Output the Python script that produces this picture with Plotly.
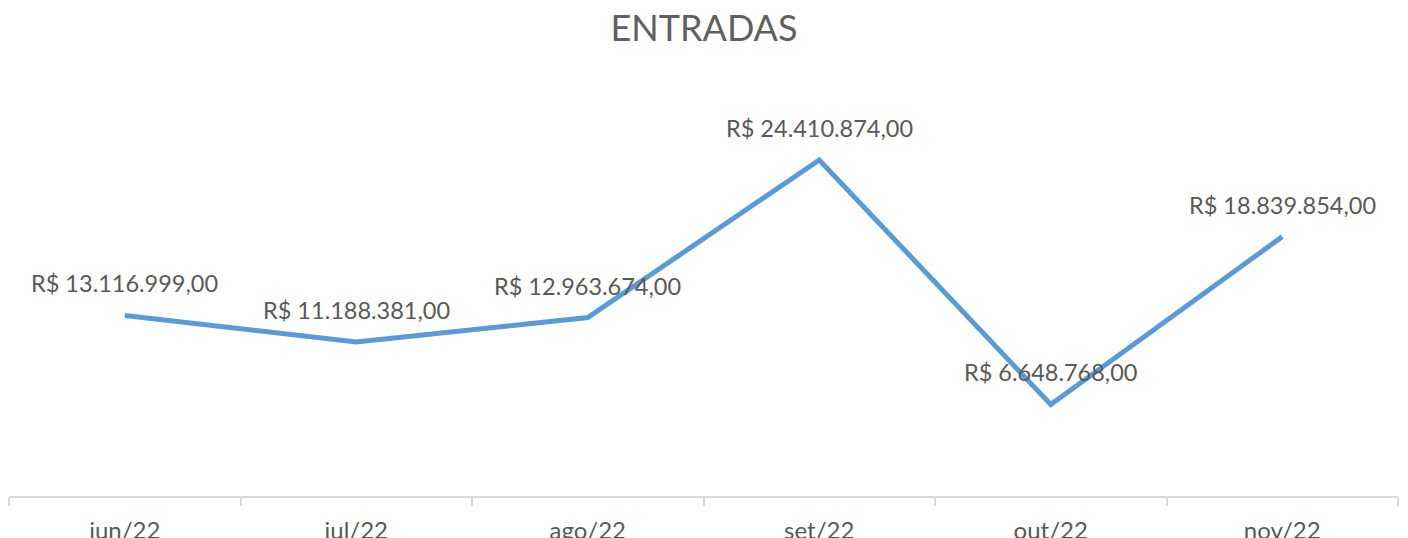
import plotly.graph_objects as go

months = ["jun/22", "jul/22", "ago/22", "set/22", "out/22", "nov/22"]
entradas = [13116999, 11188381, 12963674, 24410874, 6648768, 18839854]


def brl(v):
    s = f"{v:,.2f}"
    s = s.replace(",", "X").replace(".", ",").replace("X", ".")
    return "R$ " + s


FONT = "Lato"
TXT = "#595959"

fig = go.Figure()
fig.add_trace(go.Scatter(
    x=months, y=entradas, mode="lines",
    line=dict(color="#5B9BD5", width=5),
    hoverinfo="skip",
))

for m, v in zip(months, entradas):
    fig.add_annotation(
        x=m, y=v, text=brl(v), showarrow=False,
        yanchor="middle", yshift=32,
        font=dict(family=FONT, size=23.5, color=TXT),
    )

fig.update_layout(
    width=1408, height=538,
    margin=dict(l=1, r=18, t=75, b=50, autoexpand=False),
    paper_bgcolor="white", plot_bgcolor="white",
    showlegend=False,
    title=dict(text="ENTRADAS", x=0.4943, xanchor="center",
               y=0.963, yref="container", yanchor="middle",
               font=dict(family=FONT, size=36, color="#606060")),
    xaxis=dict(
        type="category", range=[-0.5, 5.5], automargin=False,
        showline=True, linecolor="#D9D9D9", linewidth=2,
        ticks="outside", tickson="boundaries", ticklen=8, tickwidth=1.5,
        tickcolor="#D9D9D9", showgrid=False, zeroline=False,
        tickfont=dict(family=FONT, size=24, color=TXT),
        ticklabelstandoff=12,
    ),
    yaxis=dict(range=[0, 30000000], visible=False, showgrid=False,
               zeroline=False, automargin=False),
)

fig.write_html("out.html")
